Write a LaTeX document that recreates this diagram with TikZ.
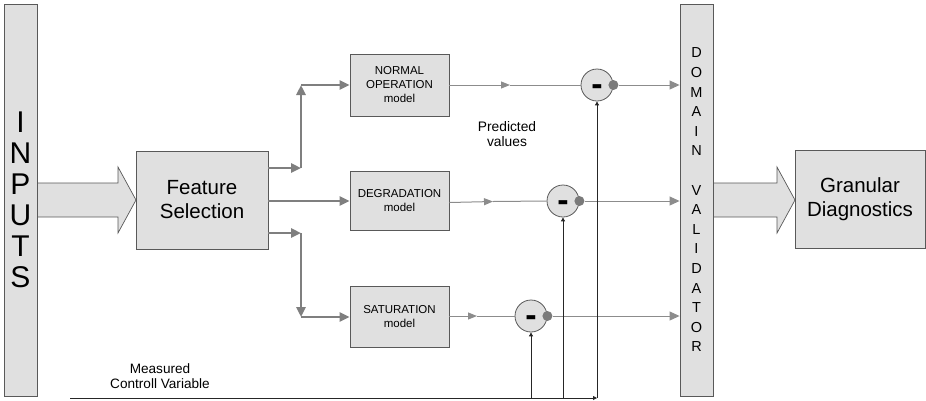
\documentclass[tikz,border=0pt]{standalone}
\usepackage{fontspec}
\setmainfont{Liberation Sans}
\usetikzlibrary{arrows.meta}
\definecolor{boxfill}{HTML}{E0E0E0}
\definecolor{boxline}{HTML}{595959}
\definecolor{arrowgray}{HTML}{7F7F7F}
\definecolor{thingray}{HTML}{8C8C8C}
\definecolor{dotgray}{HTML}{7A7A7A}
\begin{document}
\begin{tikzpicture}[x=1pt,y=-1pt,
  box/.style={draw=boxline, fill=boxfill, line width=0.9pt, inner sep=0pt, align=center},
  bar/.style={box, minimum width=33pt, minimum height=392pt},
  blockarrow/.style={draw=boxline, fill=boxfill, line width=0.7pt, line join=miter},
  fatarrow/.style={draw=arrowgray, line width=2.6pt, -{Triangle[length=10pt,width=9pt]}},
  thinarrow/.style={draw=thingray, line width=1pt, -{Triangle[length=10pt,width=9pt]}},
  thinline/.style={draw=thingray, line width=1pt},
  midarrow/.style={draw=thingray, line width=1pt, -{Triangle[length=9pt,width=7pt]}},
  sumnode/.style={circle, draw=boxline, fill=boxfill, line width=0.8pt, minimum size=32pt, inner sep=0pt},
  dotnode/.style={circle, fill=dotgray, minimum size=10pt, inner sep=0pt},
  minussign/.style={anchor=base, yshift=-10.6pt, inner sep=0pt, font=\fontsize{34}{34}\selectfont\bfseries},
  measarrow/.style={draw=black!85, line width=0.9pt, -{Triangle[length=4pt,width=4pt]}},
  lbl/.style={align=center, inner sep=0pt}
]
\useasboundingbox (0,0) rectangle (926,400);

% block arrows
\draw[blockarrow] (37,183) -- (118,183) -- (118,167) -- (136,200) -- (118,233) -- (118,217) -- (37,217) -- cycle;
\draw[blockarrow] (713,183) -- (777,183) -- (777,167) -- (795,200) -- (777,233) -- (777,217) -- (713,217) -- cycle;

% bars
\node[bar, font=\fontsize{30}{31}\selectfont] (inputs) at (20.5,200) {I\\N\\P\\U\\T\\S};
\node[bar, font=\fontsize{14.5}{19.6}\selectfont] (val) at (696.5,200) {D\\O\\M\\A\\I\\N\\\mbox{}\\V\\A\\L\\I\\D\\A\\T\\O\\R};

% boxes
\node[box, minimum width=132pt, minimum height=98pt, font=\fontsize{20.5}{24}\selectfont] (fs) at (202,200) {Feature\\Selection};
\node[box, minimum width=130pt, minimum height=98pt, font=\fontsize{20.5}{24}\selectfont] (gran) at (860,199) {Granular\\Diagnostics};
\node[box, minimum width=99pt, minimum height=62pt, font=\fontsize{11.5}{14}\selectfont] (normal) at (399.5,85) {NORMAL\\OPERATION\\model};
\node[box, minimum width=99pt, minimum height=59pt, font=\fontsize{11.5}{14}\selectfont] (degr) at (399.5,201) {DEGRADATION\\model};
\node[box, minimum width=99pt, minimum height=61pt, font=\fontsize{11.5}{14}\selectfont] (sat) at (399.5,317) {SATURATION\\model};

% difference nodes
\node[sumnode] (c1) at (597,85) {};
\node[sumnode] (c2) at (563,201) {};
\node[sumnode] (c3) at (531,316) {};
\node[minussign] at (c1) {-};
\node[minussign] at (c2) {-};
\node[minussign] at (c3) {-};
\node[dotnode] (d1) at (c1.east) {};
\node[dotnode] (d2) at (c2.east) {};
\node[dotnode] (d3) at (c3.east) {};

% routing coordinates
\coordinate (u1) at (301,168);
\coordinate (u2) at (301,85);
\coordinate (u3) at (301,233);
\coordinate (u4) at (301,317);
\coordinate (m1) at (510,85);
\coordinate (m2) at (493,201.5);
\coordinate (m3) at (477,316);
\coordinate (ms) at (70,398);
\coordinate (me) at (597,398);

% feature selection outputs
\draw[fatarrow] (fs.east |- u1) -- (u1);
\draw[fatarrow] (u1) -- (u2);
\draw[fatarrow] (u2) -- (normal.west);
\draw[fatarrow] (fs.east |- degr.west) -- (degr.west);
\draw[fatarrow] (fs.east |- u3) -- (u3);
\draw[fatarrow] (u3) -- (u4);
\draw[fatarrow] (u4) -- (sat.west);

% model outputs
\draw[midarrow] (degr.east |- 0,202.5) -- (m2);
\draw[thinline] (m2) -- (c2.west);
\draw[midarrow] (normal.east) -- (m1);
\draw[thinline] (m1) -- (c1.west);
\draw[midarrow] (sat.east |- m3) -- (m3);
\draw[thinline] (m3) -- (c3.west);

% residuals to validator
\draw[thinarrow] (d1) -- (val.west |- d1);
\draw[thinarrow] (d2) -- (val.west |- d2);
\draw[thinarrow] (d3) -- (val.west |- d3);

% measured control variable
\draw[measarrow] (ms) -- (me);
\draw[measarrow] (c3.south |- ms) -- (c3.south);
\draw[measarrow] (c2.south |- ms) -- (c2.south);
\draw[measarrow] (c1.south |- ms) -- (c1.south);

% labels
\node[lbl, font=\fontsize{13.8}{15}\selectfont] (pv) at (507,134) {Predicted\\values};
\node[lbl, font=\fontsize{13.6}{15.5}\selectfont] (mcv) at (160,376) {Measured\\Controll Variable};
\end{tikzpicture}
\end{document}
